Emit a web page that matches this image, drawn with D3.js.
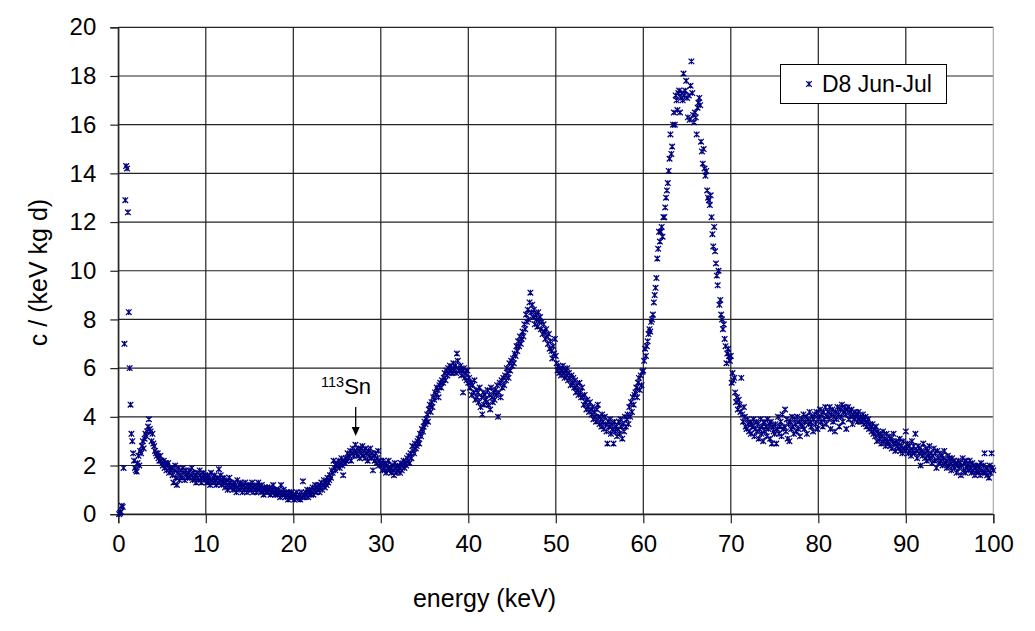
<!DOCTYPE html>
<html>
<head>
<meta charset="utf-8">
<script src="https://cdnjs.cloudflare.com/ajax/libs/d3/7.8.5/d3.min.js"></script>
<style>
  html, body { margin: 0; padding: 0; background: #fff; }
  svg { display: block; font-family: "Liberation Sans", Arial, sans-serif; }
</style>
</head>
<body>
<svg id="chart" width="1035" height="631"></svg>
<script>
// ---- data (0.1 keV channels) ----
const seriesName = "D8 Jun-Jul";
const xTicks = [0, 10, 20, 30, 40, 50, 60, 70, 80, 90, 100];
const yTicks = [0, 2, 4, 6, 8, 10, 12, 14, 16, 18, 20];
const channelWidth = 0.1; // keV

const counts0to20 = [
  0.0,0.05,0.1,0.35,0.3,1.9,7.0,12.9,14.3,14.2,
  12.4,8.3,6.0,4.5,3.3,3.0,2.5,2.2,1.9,1.8,
  1.75,2.1,2.4,2.0,2.6,2.5,2.8,3.0,2.7,3.1,
  3.3,3.2,3.4,3.6,3.9,3.5,3.4,3.0,3.3,2.9,
  2.8,2.6,2.5,2.4,2.5,2.3,2.2,2.4,2.2,2.1,
  2.0,2.2,1.9,2.1,1.8,2.0,2.1,1.7,1.9,1.8,
  1.9,1.6,1.3,1.8,2.0,1.5,1.2,1.7,1.9,1.4,
  1.6,1.8,1.5,1.9,1.7,1.4,1.8,1.6,1.5,1.7,
  1.8,1.5,1.6,1.9,1.4,1.7,1.5,1.6,1.3,1.7,
  1.5,1.4,1.8,1.6,1.3,1.5,1.7,1.4,1.6,1.5,
  1.3,1.6,1.4,1.5,1.2,1.7,1.4,1.3,1.5,1.6,
  1.4,1.2,1.5,1.3,1.85,1.4,1.6,1.2,1.4,1.3,
  1.5,1.1,1.3,1.4,1.0,1.2,1.5,1.3,1.1,1.2,
  1.0,1.3,1.1,1.2,0.9,1.4,1.1,1.0,1.2,1.3,
  1.1,0.9,1.2,1.0,1.3,1.1,0.9,1.2,1.0,1.1,
  1.2,1.0,1.3,0.9,1.1,1.2,1.0,0.9,1.1,1.3,
  1.0,1.1,0.9,1.2,1.0,0.8,1.1,1.0,0.9,1.1,
  0.9,1.0,1.1,0.8,0.9,1.0,1.2,0.9,0.8,1.0,
  0.9,0.8,1.0,0.9,0.7,1.2,0.8,0.9,1.0,0.8,
  0.7,0.9,0.8,0.6,0.9,0.7,0.8,0.9,0.7,0.8
];
const counts20to40 = [
  0.6,0.8,0.7,0.9,0.65,0.7,0.8,0.6,0.9,0.7,
  1.35,0.8,0.7,0.9,0.8,1.0,0.7,0.9,1.0,0.8,
  0.9,1.1,0.8,1.0,1.2,0.9,1.1,1.0,1.2,0.9,
  1.1,1.3,1.0,1.2,1.4,1.1,1.3,1.2,1.5,1.3,
  1.4,1.6,1.5,1.8,1.7,2.2,1.9,1.8,2.0,2.1,
  2.0,2.2,1.9,2.1,2.3,2.0,1.6,2.2,2.1,2.3,
  2.2,2.5,2.3,2.4,2.6,2.2,2.5,2.7,2.4,2.6,
  2.85,2.5,2.4,2.7,2.6,2.3,2.7,2.5,2.8,2.4,
  2.6,2.3,2.7,2.5,2.2,2.6,2.4,2.7,2.3,2.5,
  1.8,2.4,2.2,2.5,2.1,2.3,2.6,2.0,2.2,2.1,
  2.0,1.8,2.2,1.9,2.1,1.7,2.0,1.9,2.2,1.8,
  1.9,1.7,2.0,1.8,1.6,2.1,1.9,1.7,2.0,1.8,
  1.9,1.7,2.1,1.8,2.0,2.2,1.9,2.1,2.0,2.3,
  2.2,2.4,2.1,2.5,2.3,2.8,2.6,2.5,2.9,2.7,
  2.8,3.0,3.1,2.9,3.3,3.2,3.5,3.4,3.6,3.8,
  3.7,3.9,4.1,3.8,4.3,4.5,4.2,4.6,4.4,4.8,
  4.7,5.0,4.9,5.2,5.1,4.8,5.3,5.4,5.2,5.5,
  5.4,5.6,5.8,5.5,5.9,5.7,6.0,5.8,6.1,5.9,
  6.0,5.8,6.2,5.9,6.1,5.8,6.6,6.3,6.0,5.9,
  6.1,5.7,5.9,5.0,6.0,5.6,5.8,5.5,5.9,5.4
];
const counts40to60 = [
  5.6,5.2,5.4,4.9,5.3,5.0,5.5,4.7,5.1,4.8,
  5.0,4.6,5.2,4.4,4.8,4.1,5.0,4.5,4.9,4.7,
  4.6,5.1,4.5,4.9,4.3,5.2,4.8,4.6,5.0,4.7,
  5.1,4.9,5.3,4.0,5.0,5.4,4.8,5.5,5.2,5.6,
  5.3,5.7,5.5,6.0,5.8,5.6,6.2,5.9,6.3,6.1,
  6.4,6.2,6.6,6.5,6.9,6.7,7.1,6.9,7.3,7.0,
  7.2,7.5,7.3,7.8,7.6,8.2,7.9,8.4,8.0,8.7,
  9.1,8.3,8.6,8.1,8.4,7.8,8.2,8.0,7.7,8.3,
  7.9,8.1,7.6,7.9,7.4,7.8,7.5,7.2,7.6,7.3,
  7.0,7.4,6.8,7.1,6.7,6.4,6.9,6.6,7.2,6.5,
  6.2,5.9,6.1,5.8,6.0,5.7,5.9,6.1,5.8,5.6,
  5.9,5.7,6.0,5.5,5.8,5.6,5.3,5.7,5.4,5.6,
  5.2,5.5,5.0,5.3,5.1,4.9,5.4,5.0,4.8,5.2,
  4.8,4.5,4.9,4.6,4.3,4.7,4.4,4.2,4.6,4.3,
  4.1,4.4,3.9,4.2,4.0,3.8,4.3,4.5,4.0,3.7,
  3.9,3.6,4.1,3.8,3.5,4.0,3.7,3.4,2.9,3.8,
  3.6,3.9,3.3,3.7,3.5,2.9,3.8,3.4,3.6,3.2,
  3.5,3.8,3.3,3.9,3.6,3.1,3.7,3.4,4.0,3.6,
  3.9,4.1,3.7,4.4,4.0,4.6,4.2,4.8,4.5,4.9,
  5.0,5.2,4.8,5.4,5.6,5.1,5.7,5.3,5.85,5.9
];
const counts60to80 = [
  6.3,6.8,6.5,6.9,7.1,7.4,7.6,7.5,7.9,8.0,
  8.2,8.7,9.0,9.3,9.7,10.5,10.9,11.6,11.2,11.6,
  11.8,11.4,12.2,12.2,12.6,13.0,13.3,13.6,14.1,14.6,
  15.6,14.8,15.1,16.0,16.5,16.0,17.2,17.0,16.6,17.3,
  17.4,16.5,17.1,17.3,17.0,18.1,17.2,17.4,17.8,17.1,
  16.3,17.2,16.2,17.6,18.6,17.3,16.4,16.1,16.5,16.3,
  15.6,16.7,16.9,17.1,16.8,15.3,14.9,14.4,15.0,14.2,
  13.9,14.1,13.3,13.0,12.9,12.7,13.1,12.2,11.5,11.0,
  11.8,10.8,10.3,9.8,9.4,10.0,8.6,8.8,8.2,8.0,
  7.6,7.8,7.2,6.9,6.2,6.6,6.8,6.5,6.3,6.5,
  5.4,5.8,5.5,5.6,5.0,4.6,4.8,4.3,4.7,4.5,
  4.2,5.6,4.1,3.8,4.4,4.0,3.6,3.5,3.9,3.7,
  3.4,3.8,3.3,3.7,3.6,3.9,3.2,3.5,3.8,3.4,
  3.7,3.1,3.5,3.9,3.3,3.6,3.0,3.8,3.4,3.6,
  3.2,3.9,3.5,3.7,3.1,3.8,2.9,3.6,3.4,3.3,
  3.7,2.9,3.5,4.0,3.3,3.6,3.8,3.2,4.1,3.5,
  3.6,4.3,3.4,3.9,3.1,3.7,3.0,3.8,3.5,4.0,
  3.6,3.3,3.9,3.7,3.4,4.0,3.5,3.8,3.2,3.7,
  3.9,3.6,4.1,3.5,3.8,4.0,3.3,3.9,3.7,4.2,
  3.8,3.6,4.0,3.4,3.9,4.1,3.7,4.2,3.5,3.9
];
const counts80to100 = [
  4.0,4.3,3.8,4.1,3.6,4.2,3.9,4.4,3.7,4.0,
  4.2,3.9,4.4,3.5,4.1,4.3,3.8,4.0,3.4,4.2,
  3.9,4.4,4.1,3.6,4.3,4.0,4.5,3.8,4.2,4.4,
  4.1,3.5,4.3,4.4,3.9,4.2,4.0,4.3,3.7,4.1,
  3.9,4.2,4.0,4.1,3.8,4.2,3.9,4.0,3.8,3.9,
  4.1,3.7,3.9,4.0,3.6,3.8,3.9,3.5,3.7,3.6,
  3.4,3.7,3.3,3.5,3.2,3.6,3.0,3.4,3.3,3.1,
  3.3,2.9,3.2,3.4,3.0,3.1,2.8,3.3,3.0,2.9,
  3.2,2.8,3.1,2.7,3.0,3.3,2.9,2.6,3.0,2.8,
  2.9,2.7,3.1,2.6,2.8,2.5,3.0,2.7,2.6,3.4,
  2.7,2.9,2.5,2.8,2.6,2.4,3.0,2.6,2.8,2.5,
  3.3,2.6,2.3,2.8,2.5,2.7,2.0,2.6,2.4,2.9,
  2.5,2.3,2.7,2.2,2.6,2.4,2.8,2.3,2.5,2.1,
  2.4,2.7,2.2,2.5,1.9,2.6,2.3,2.1,2.5,2.2,
  2.4,2.0,2.3,2.6,2.1,2.2,1.9,2.4,2.0,2.3,
  2.1,1.8,2.3,2.0,2.2,1.9,2.1,1.7,2.0,2.2,
  1.9,2.1,1.6,2.0,2.3,1.8,2.1,1.7,2.2,1.9,
  2.0,1.8,2.2,1.9,1.7,2.1,1.8,2.0,1.6,1.9,
  1.8,2.0,1.7,1.9,1.6,2.1,1.8,1.7,2.0,2.5,
  1.7,1.9,1.6,1.8,1.5,2.0,1.7,2.5,1.9,1.8
];

const counts = [].concat(counts0to20, counts20to40, counts40to60, counts60to80, counts80to100);
const points = counts.map((c, i) => ({ e: (i + 1) * channelWidth, c: c }));

// ---- layout ----
const svg = d3.select("#chart");
const plotLeft = 118.3, plotRight = 993.3, plotTop = 27.3, plotBottom = 514.2;
const x = d3.scaleLinear().domain([0, 100]).range([plotLeft, plotRight]);
const y = d3.scaleLinear().domain([0, 20]).range([plotBottom, plotTop]);
const gridColor = "#222";
const markColor = "#000080";

// gridlines
svg.append("g").selectAll("line").data(yTicks).join("line")
  .attr("x1", plotLeft).attr("x2", plotRight)
  .attr("y1", d => y(d)).attr("y2", d => y(d))
  .attr("stroke", gridColor).attr("stroke-width", 1.2);
svg.append("g").selectAll("line").data(xTicks).join("line")
  .attr("x1", d => x(d)).attr("x2", d => x(d))
  .attr("y1", plotTop).attr("y2", plotBottom)
  .attr("stroke", d => d === 100 ? "#aaa" : gridColor).attr("stroke-width", 1.2);

// axes
const yAxis = d3.axisLeft(y).tickValues(yTicks).tickSize(8).tickPadding(14).tickFormat(d3.format("d"));
const gy = svg.append("g").attr("transform", `translate(${plotLeft},0)`).call(yAxis);
const xAxis = d3.axisBottom(x).tickValues(xTicks).tickSize(9).tickPadding(12).tickFormat(d3.format("d"));
const gx = svg.append("g").attr("transform", `translate(0,${plotBottom})`).call(xAxis);
[gx, gy].forEach(g => {
  g.select(".domain").attr("stroke", gridColor).attr("stroke-width", 1.2);
  g.selectAll(".tick line").attr("stroke", gridColor).attr("stroke-width", 1.2);
  g.selectAll(".tick text").attr("fill", "#000").style("font-size", "24px")
    .style("font-family", "'Liberation Sans', Arial, sans-serif");
});

// markers (star: X with vertical bar)
const s = 2.8;
const starPath = `M${-s},${-s}L${s},${s}M${-s},${s}L${s},${-s}M0,${-s}L0,${s}`;
svg.append("g").selectAll("path").data(points).join("path")
  .attr("transform", d => `translate(${x(d.e)},${y(d.c)})`)
  .attr("d", starPath)
  .attr("fill", "none")
  .attr("stroke", markColor).attr("stroke-width", 1.25);

// axis titles
svg.append("text").attr("x", 484.5).attr("y", 607).attr("text-anchor", "middle")
  .style("font-size", "25px").text("energy (keV)");
svg.append("text").attr("transform", "translate(47,272.5) rotate(-90)").attr("text-anchor", "middle")
  .style("font-size", "25px").text("c / (keV kg d)");

// legend
const lg = svg.append("g");
lg.append("rect").attr("x", 780.5).attr("y", 64.5).attr("width", 166).attr("height", 39)
  .attr("fill", "#fff").attr("stroke", "#000").attr("stroke-width", 1);
lg.append("path").attr("transform", "translate(809,84)").attr("d", starPath)
  .attr("fill", "none").attr("stroke", markColor).attr("stroke-width", 1.2);
lg.append("text").attr("x", 822).attr("y", 92).style("font-size", "23px").text(seriesName);

// 113Sn annotation
const ann = svg.append("text").attr("x", 321).attr("y", 394).style("font-size", "22px");
ann.append("tspan").attr("dy", -7).style("font-size", "14.5px").text("113");
ann.append("tspan").attr("dy", 7).text("Sn");
const arrowX = 355.7;
svg.append("line").attr("x1", arrowX).attr("x2", arrowX).attr("y1", 407).attr("y2", 428)
  .attr("stroke", "#000").attr("stroke-width", 1.3);
svg.append("path").attr("d", `M${arrowX - 4},427L${arrowX + 4},427L${arrowX},436Z`).attr("fill", "#000");
</script>
</body>
</html>
